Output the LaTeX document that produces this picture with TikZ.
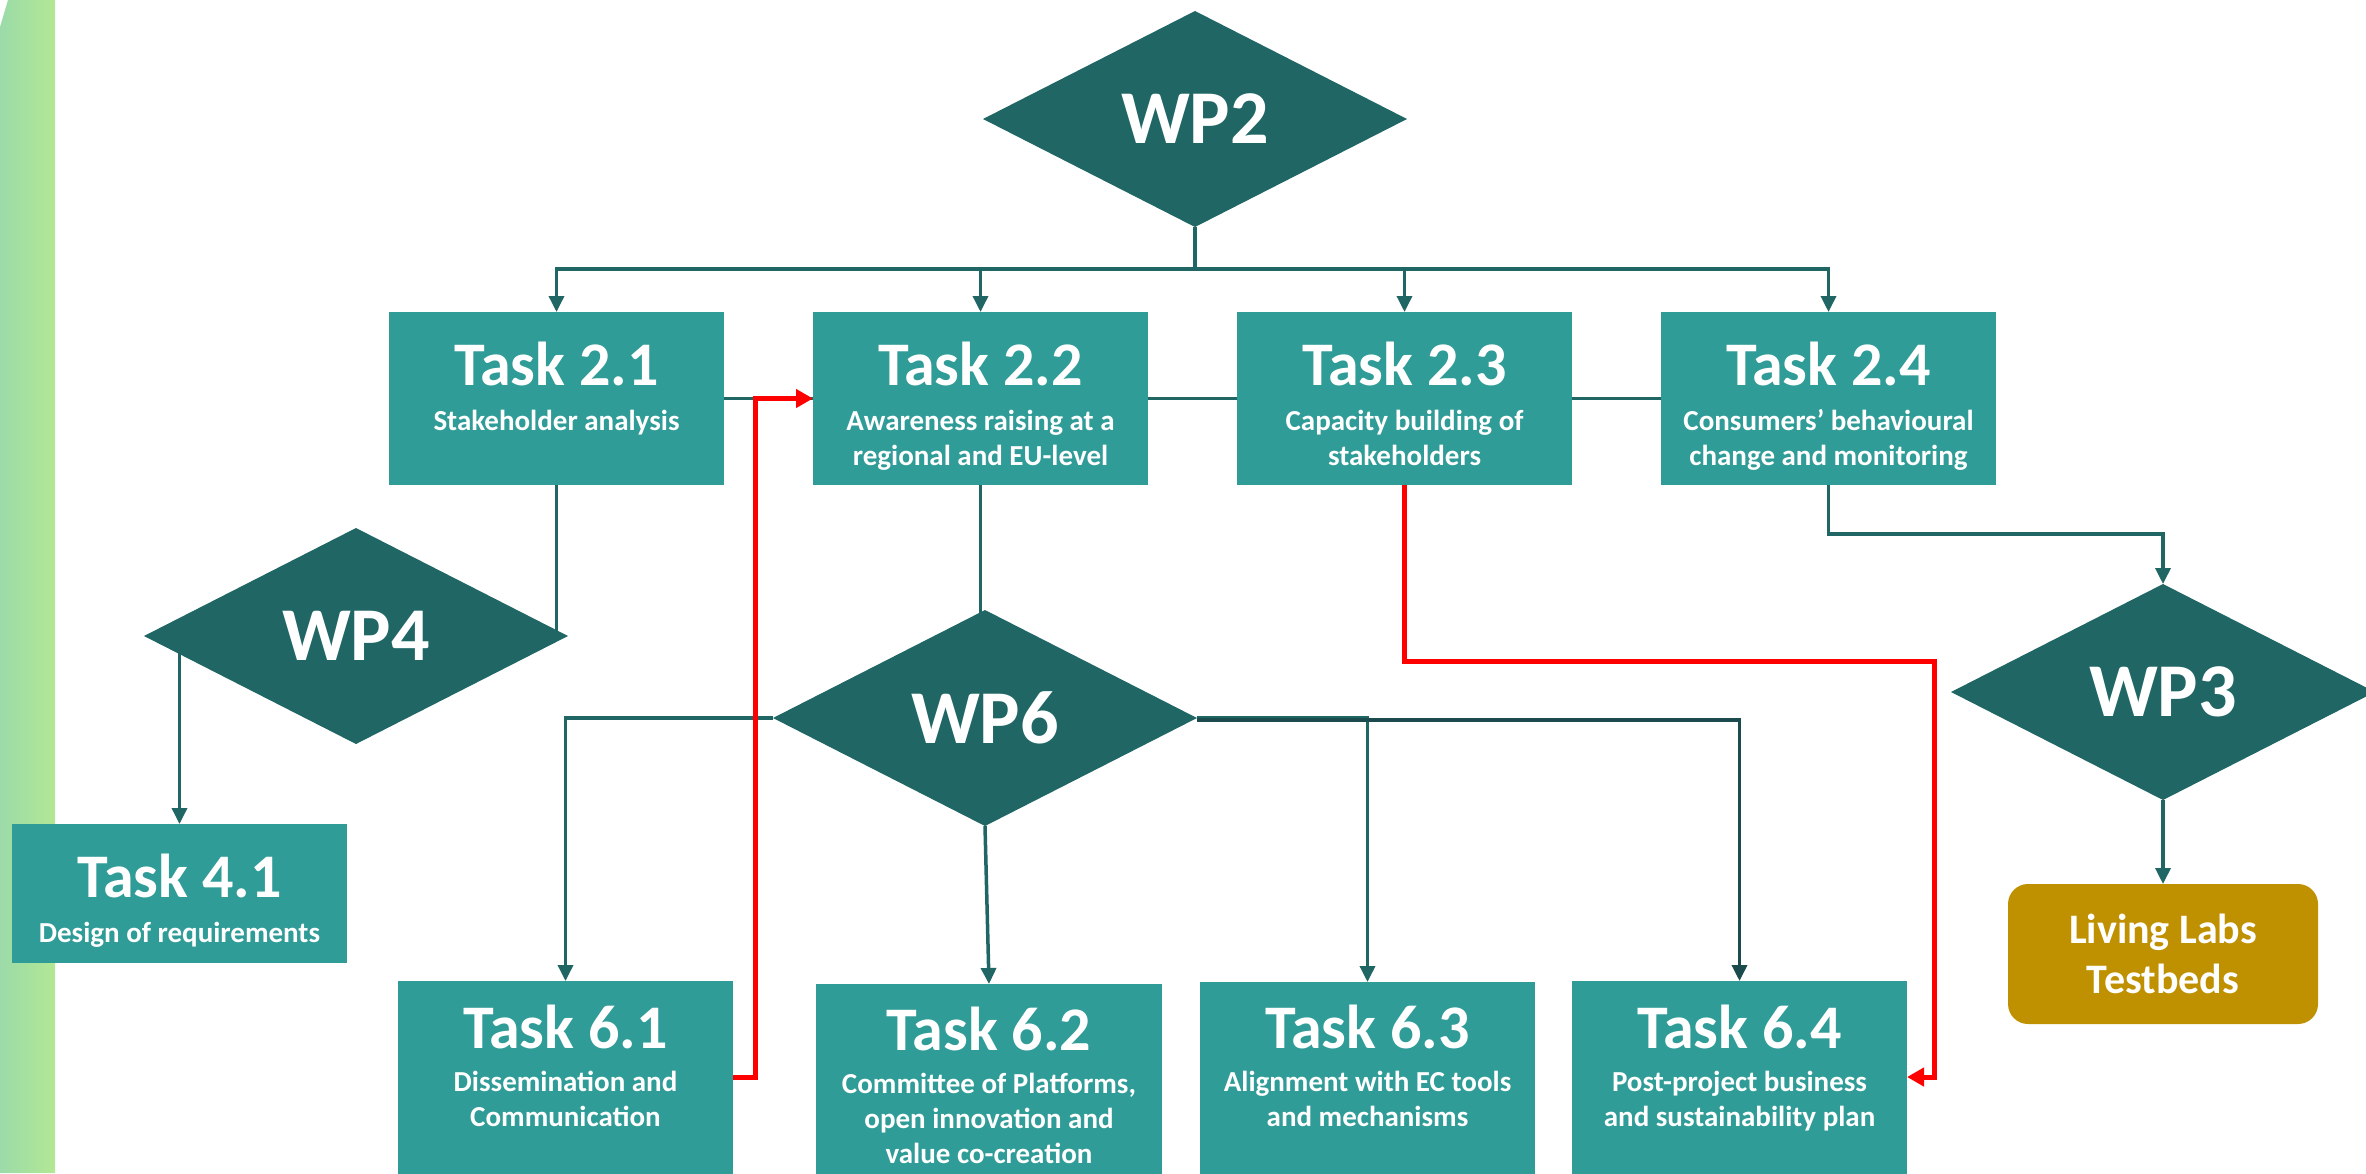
\documentclass[tikz,border=0pt]{standalone}
\usepackage{fontspec}
\setmainfont{Carlito}
\usetikzlibrary{shapes.geometric,arrows.meta,calc,backgrounds}
\definecolor{tealbox}{HTML}{309C98}
\definecolor{wpdark}{HTML}{1F6665}
\definecolor{linedark}{HTML}{1F6665}
\definecolor{linedarker}{HTML}{1B4B4C}
\definecolor{goldbox}{HTML}{BF9000}
\definecolor{bandL}{HTML}{9CDBA9}
\definecolor{bandR}{HTML}{B2E794}
\newcommand\sublines[1]{\begin{tabular}[t]{@{}c@{}}#1\end{tabular}}
\begin{document}
\begin{tikzpicture}[x=1pt,y=-1pt,
  taskbox/.style={fill=tealbox, draw=none, inner sep=0pt, outer sep=0pt, anchor=north west, minimum width=335pt, minimum height=173pt},
  wpnode/.style={diamond, fill=wpdark, draw=none, inner sep=0pt, outer sep=0pt, minimum width=424pt, minimum height=216pt, text=white, font=\fontsize{76}{80}\selectfont\bfseries},
  ttl/.style={text=white, inner sep=0pt, anchor=base, font=\fontsize{62}{70}\selectfont\bfseries},
  subt/.style={text=white, inner sep=0pt, anchor=base, font=\fontsize{29}{35}\selectfont\bfseries},
  conn/.style={draw=linedark, line width=3.5pt},
  arr/.style={conn, -{Triangle[length=16pt,width=15pt]}},
  redarr/.style={draw=red, line width=5pt, -{Triangle[length=17pt,width=18pt]}},
]
\useasboundingbox (0,0) rectangle (2366,1173);
\clip (0,0) rectangle (2366,1173);

% diamonds
\node[wpnode] (wp2) at (1195,119) {WP2};
\node[wpnode] (wp4) at (356,636) {WP4};
\node[wpnode] (wp6) at (985,718) {WP6};
\node[wpnode] (wp3) at (2163,692) {WP3};

% task boxes
\node[taskbox] (t21) at (389,312) {};
\node[taskbox] (t22) at (813,312) {};
\node[taskbox] (t23) at (1237,312) {};
\node[taskbox] (t24) at (1661,312) {};
\node[taskbox, minimum height=139pt] (t41) at (12,824) {};
\node[taskbox, minimum height=260pt] (t61) at (398,981) {};
\node[taskbox, minimum height=260pt, minimum width=346pt] (t62) at (816,984) {};
\node[taskbox, minimum height=260pt] (t63) at (1200,982) {};
\node[taskbox, minimum height=260pt] (t64) at (1572,981) {};
\node[fill=goldbox, draw=none, rounded corners=20pt, minimum width=310pt, minimum height=140pt, anchor=north west, inner sep=0pt, outer sep=0pt] (ll) at (2008,884) {};

% texts
\node[ttl] (t21t) at ($(t21.north)+(0,73)$) {Task 2.1};
\node[subt] (t21s) at ($(t21.north)+(0,118)$) {\sublines{Stakeholder analysis}};
\node[ttl] (t22t) at ($(t22.north)+(0,73)$) {Task 2.2};
\node[subt] (t22s) at ($(t22.north)+(0,118)$) {\sublines{Awareness raising at a\\regional and EU-level}};
\node[ttl] (t23t) at ($(t23.north)+(0,73)$) {Task 2.3};
\node[subt] (t23s) at ($(t23.north)+(0,118)$) {\sublines{Capacity building of\\stakeholders}};
\node[ttl] (t24t) at ($(t24.north)+(0,73)$) {Task 2.4};
\node[subt] (t24s) at ($(t24.north)+(0,118)$) {\sublines{Consumers' behavioural\\change and monitoring}};
\node[ttl] (t41t) at ($(t41.north)+(0,73)$) {Task 4.1};
\node[subt] (t41s) at ($(t41.north)+(0,118)$) {\sublines{Design of requirements}};
\node[ttl] (t61t) at ($(t61.north)+(0,67)$) {Task 6.1};
\node[subt] (t61s) at ($(t61.north)+(0,110)$) {\sublines{Dissemination and\\Communication}};
\node[ttl] (t62t) at ($(t62.north)+(0,66)$) {Task 6.2};
\node[subt] (t62s) at ($(t62.north)+(0,109)$) {\sublines{Committee of Platforms,\\open innovation and\\value co-creation}};
\node[ttl] (t63t) at ($(t63.north)+(0,66)$) {Task 6.3};
\node[subt] (t63s) at ($(t63.north)+(0,109)$) {\sublines{Alignment with EC tools\\and mechanisms}};
\node[ttl] (t64t) at ($(t64.north)+(0,67)$) {Task 6.4};
\node[subt] (t64s) at ($(t64.north)+(0,110)$) {\sublines{Post-project business\\and sustainability plan}};
\node[text=white, anchor=base, inner sep=0pt, font=\fontsize{42}{50}\selectfont\bfseries] (llt) at ($(ll.north)+(0,59)$) {\sublines{Living Labs\\Testbeds}};

\coordinate (rbend) at (1934,661);

\begin{pgfonlayer}{background}
  \shade[left color=bandL, right color=bandR] (8,0) -- (55,0) -- (55,1173) -- (0,1173) -- (0,27) -- cycle;
  \draw[arr] (wp2.south) -- ++(0,42) -| (t21.north);
  \draw[arr] (wp2.south) -- ++(0,42) -| (t22.north);
  \draw[arr] (wp2.south) -- ++(0,42) -| (t23.north);
  \draw[arr] (wp2.south) -- ++(0,42) -| (t24.north);
  \draw[conn] (t21.east) -- (t22.west);
  \draw[conn] (t22.east) -- (t23.west);
  \draw[conn] (t23.east) -- (t24.west);
  \draw[conn] (t21.south) -- (t21.south |- wp4.center);
  \draw[arr] (t41.north |- wp4.center) -- (t41.north);
  \draw[conn] (t22.south) -- (t22.south |- wp6.center);
  \draw[arr] (wp6.west) -| (t61.north);
  \draw[arr] (wp6.south) -- (t62.north);
  \draw[arr] (wp6.east) -| (t63.north);
  \draw[arr, draw=linedarker] ([yshift=-2pt]wp6.east) -| (t64.north);
  \draw[arr] (t24.south) -- ++(0,49) -| (wp3.north);
  \draw[arr] (wp3.south) -- (ll.north);
\end{pgfonlayer}

% red feedback connectors
\draw[redarr] ($(t61.north east)+(0,96)$) -- ++(22,0) |- (t22.west);
\draw[redarr] (t23.south) |- (rbend) |- ($(t64.north east)+(0,96)$);
\end{tikzpicture}
\end{document}
